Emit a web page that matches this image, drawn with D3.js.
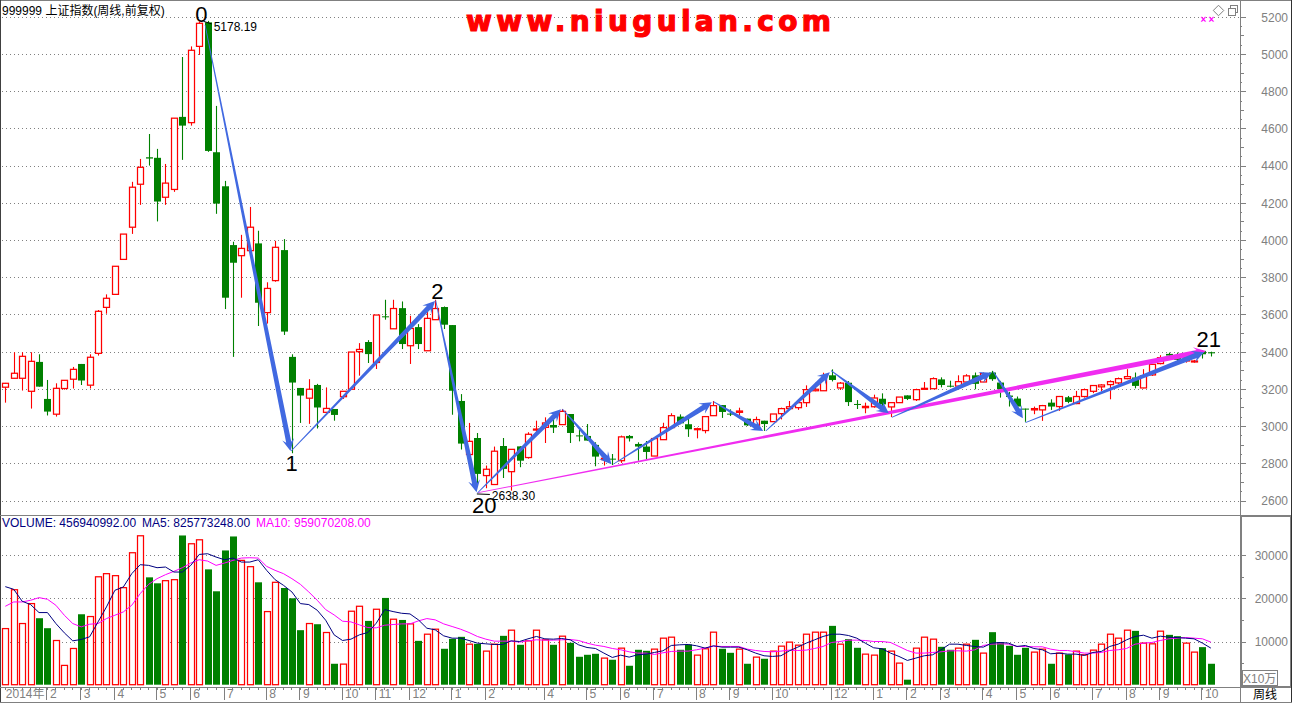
<!DOCTYPE html>
<html><head><meta charset="utf-8">
<style>
html,body{margin:0;padding:0;background:#fff;overflow:hidden}
text{font-family:"Liberation Sans","Noto Sans CJK SC",sans-serif}
</style>
<script src="https://cdn.jsdelivr.net/npm/d3@7/dist/d3.min.js"></script>
</head><body><div id="chart"></div>
<script>
const opens=[3209,3257,3257,3187,3345,3146,3064,3202,3252,3334,3220,3391,3638,3708,3896,4069,4300,4445,4442,4230,4272,4662,4631,5041,5170,4472,4289,3973,3916,3943,3982,3610,3782,3946,3372,3205,3150,3221,
3074,3092,3158,3198,3400,3452,3342,3590,3523,3634,3432,3532,3405,3572,3640,3543,3135,2847,2936,2734,2686,2893,2755,2891,2831,2979,2993,3006,3008,3065,2950,2947,2899,2820,2825,2814,2947,2904,
2890,2839,2927,2992,3051,3010,2981,2976,3056,3113,3067,3074,3040,3001,3029,3024,3067,3094,3099,3126,3190,3190,3273,3205,3233,3119,3099,3104,3147,3103,3126,3165,3142,3199,3201,3251,3217,3215,
3237,3273,3237,3288,3234,3164,3148,3094,3087,3087,3126,3105,3155,3121,3159,3187,3211,3223,3232,3255,3261,3205,3275,3336,3388,3377,3350,3345,3404,3397];
const closes=[3230,3284,3375,3348,3212,3078,3203,3246,3305,3245,3370,3617,3687,3859,4032,4284,4391,4438,4207,4306,4655,4615,5020,5165,4479,4196,3690,3878,3955,4069,3663,3740,3961,3508,3234,3164,3198,3100,
3095,3060,3187,3398,3412,3387,3597,3587,3632,3441,3525,3441,3579,3632,3545,3190,2906,2918,2743,2768,2865,2770,2875,2814,2956,2984,3017,2992,3079,2963,2945,2922,2836,2827,2822,2942,2934,2890,
2861,2933,2992,3056,3015,2983,2986,3051,3110,3076,3063,3081,3004,3035,3011,3065,3094,3104,3126,3196,3198,3251,3248,3231,3129,3115,3106,3151,3117,3126,3156,3146,3196,3203,3255,3221,3214,3239,
3270,3227,3282,3252,3198,3157,3105,3089,3094,3110,3105,3159,3130,3159,3196,3218,3221,3239,3255,3266,3216,3270,3332,3368,3379,3356,3368,3350,3386,3391];
const highs=[3232,3397,3397,3397,3386,3248,3230,3246,3318,3334,3386,3624,3708,3859,4032,4313,4436,4570,4490,4409,4655,4984,5041,5174,5178,4721,4318,3991,4028,4178,4050,3773,3996,4005,3386,3205,3252,3227,
3208,3092,3187,3398,3446,3462,3597,3679,3679,3670,3593,3548,3616,3679,3643,3543,3172,3017,2963,2788,2890,2936,2875,2891,2967,3029,3047,3042,3092,3065,2981,3011,2913,2832,2850,2949,2952,2913,
2920,2933,3018,3069,3063,3045,2992,3051,3135,3113,3090,3099,3040,3051,3029,3065,3099,3135,3144,3219,3233,3287,3305,3237,3242,3140,3126,3169,3176,3126,3156,3165,3201,3237,3262,3262,3244,3273,
3279,3288,3288,3297,3243,3184,3159,3094,3105,3114,3144,3162,3162,3189,3202,3221,3225,3246,3261,3306,3288,3306,3332,3381,3395,3395,3377,3356,3409,3400];
const lows=[3126,3257,3191,3094,3212,3057,3051,3196,3202,3221,3202,3379,3604,3708,3896,4033,4189,4400,4100,4189,4259,4431,4615,4995,4474,4141,3629,3372,3690,3943,3538,3551,3776,3490,2854,3017,3012,2987,
3074,3029,3146,3194,3271,3339,3307,3572,3523,3414,3334,3414,3405,3572,3522,3061,2874,2847,2689,2666,2686,2721,2653,2779,2825,2967,2909,2963,3008,2909,2918,2922,2784,2788,2791,2802,2917,2814,
2822,2839,2927,2992,3010,2942,2934,2961,3056,3044,3054,3058,3001,2992,2974,3024,3036,3090,3087,3103,3187,3190,3240,3194,3108,3092,3069,3099,3099,3049,3126,3140,3135,3199,3201,3208,3208,3210,
3237,3198,3237,3243,3153,3105,3091,3023,3064,3028,3087,3082,3123,3118,3153,3177,3187,3144,3225,3252,3203,3203,3270,3332,3359,3350,3341,3341,3363,3374];
const volumes=[13000,22000,14170,18790,15400,13090,10240,4470,8390,16320,15790,25000,25720,25260,22480,30570,34500,24870,23490,24100,24330,34570,32650,33570,26720,21640,31100,34340,28800,27340,23720,16940,23720,22400,20020,12630,14170,14010,12090,
4850,4770,17020,18170,14780,17480,20100,15170,15000,14090,10160,11700,12860,8320,10630,11090,9390,9470,7780,9390,11320,12630,9240,10160,12630,10400,9240,11240,9700,6470,6930,7160,6160,5780,8470,4390,8090,7850,8240,
10780,11010,8090,9320,6850,8320,12170,8320,7390,8240,4850,6390,6010,7780,8930,9860,9160,11700,12170,12170,13630,9390,10550,8550,7080,6850,8470,7780,5000,1160,8470,11010,10550,8780,8090,8470,9390,10400,7320,12170,
9860,9010,6930,8550,7550,8240,4850,7320,7010,7780,6930,8010,9390,11700,10780,12630,12470,9630,9470,12400,11550,11240,9630,7550,8700,4850];
const ma5=[22715,22100,19330,18560,16710,16710,14170,12010,10160,10470,11090,14550,18020,21870,22640,25720,27800,27640,27100,27260,26100,26100,27640,30180,30340,29570,28950,29340,28410,28410,28950,26490,24330,23020,21480,18790,18560,17250,14940,
11550,10240,10550,11550,12090,14250,17400,16940,16550,16400,15020,13090,12700,11320,10780,10780,10240,9630,9470,9320,9320,10160,10010,10630,11170,10630,10550,10700,10400,9240,8620,8390,7320,6310,6850,6390,6930,7080,7470,
7850,9090,9240,9320,9010,8470,9010,8700,8700,8700,8090,7320,6700,6550,6700,7850,8700,9630,10400,11170,11700,11700,11400,10780,9630,8550,8320,7320,6550,5620,6160,6700,6930,8090,9390,9390,9090,8860,8700,
9630,9780,9630,8860,9090,8390,8090,7160,7320,7080,7080,6780,7470,7700,8860,9390,10400,11170,11470,10780,11240,11010,10930,10780,10630,9630,8470];
const ma10=[18170,19170,19170,19560,20170,19790,18400,16090,14170,13400,14010,14170,15320,16090,16860,18400,21100,23250,24560,25490,26260,27100,28180,28950,28640,27640,28180,28800,29340,29410,29340,27410,26490,25720,24560,23250,21480,19560,17400,
16170,14710,14550,13860,13240,13170,13780,13940,14090,14090,14780,15320,15020,14090,13480,12860,12090,11170,10550,10090,10090,10090,9860,10160,10400,10320,10320,10400,10470,10240,9630,9160,8860,8390,8090,7620,7320,7320,7010,
7390,7700,7780,7780,8090,8470,8930,8860,8860,8860,8240,7930,7700,7620,7780,8010,7930,8010,8390,8860,9780,10010,10320,10320,10240,10010,10010,9780,8860,7930,7320,7320,7470,7620,7850,7850,7780,8090,9090,
9390,9470,9390,8860,8860,8780,8780,8240,7930,7930,7620,7320,7320,7470,7930,8090,8390,9390,9630,9780,10240,10630,10780,10930,10780,10630,9860];
const priceTicks=[5200,5000,4800,4600,4400,4200,4000,3800,3600,3400,3200,3000,2800,2600];
const priceMidTicks=[5100,4900,4700,4500,4300,4100,3900,3700,3500,3300,3100,2900,2700];
const priceMinorTicks=[5150,5050,4950,4850,4750,4650,4550,4450,4350,4250,4150,4050,3950,3850,3750,3650,3550,3450,3350,3250,3150,3050,2950,2850,2750,2650];
const volumeTicks=[10000,20000,30000];
const volumeMidTicks=[5000,15000,25000];
const monthWeeks=[0,5,9,13,18,22,26,31,35,40,44,48,53,57,64,69,73,77,82,86,91,98,103,107,111,116,120,124,129,133,137,142];
const monthLabels=["2014年","2","3","4","5","6","7","8","9","10","11","12","1","2","4","5","6","7","8","9","10","12","1","2","3","4","5","6","7","8","9","10"];
const blueArrows=[[23.7,5156,33.83,2866],[33.9,2866,50.97,3672],[51.05,3676,55.9,2644],[56,2640,65.9,3090],[66.07,3092,71.9,2795],[72.1,2795,83.8,3128],[84,3131,89.9,2974],[90.2,2974,97.8,3289],[97.95,3298,104.8,3069],[105.15,3047,117,3287],[117.2,3292,120.7,3042],[121,3018,142.2,3397]];
const magentaArrows=[[56.1,2642,142.4,3404]];
const waveLabels=[["0",23.25,5174],["1",33.97,2759],["2",51.24,3683],["20",56.8,2531],["21",142.75,3423]];
const extremes=[["5178.19",24,5178],["2638.30",57,2638]];
const titleText="999999 上证指数(周线,前复权)";
const watermark="www.niugulan.com";
const volumeReadout=["VOLUME: 456940992.00","MA5: 825773248.00","MA10: 959070208.00"];

const W=1292,H=703,GRAY="#808080",RED="#ff0000",GREEN="#008000",NAVY="#000080",MAG="#ff00ff",BLUE="#4169e1",PINK="#f02cf0";
const svg=d3.select("#chart").append("svg").attr("width",W).attr("height",H).style("display","block");
const x=d3.scaleLinear().domain([0,143]).range([5.3,1210.9]);
const y=d3.scaleLinear().domain([5000,2800]).range([54,463.3]);
const v=d3.scaleLinear().domain([0,30000]).range([684.7,555.2]);
const TXT=12;

function ln(x1,y1,x2,y2,c,w){svg.append("line").attr("x1",x1).attr("y1",y1).attr("x2",x2).attr("y2",y2).attr("stroke",c).attr("stroke-width",w).attr("shape-rendering","crispEdges");}

// grid
const grid=svg.append("g");
const gridLine=(vals,sc)=>grid.append("g").selectAll("line").data(vals).join("line")
  .attr("x1",2).attr("x2",1240).attr("y1",d=>Math.round(sc(d))+.5).attr("y2",d=>Math.round(sc(d))+.5)
  .attr("stroke",GRAY).attr("stroke-dasharray","1 3");
gridLine(priceTicks,y);gridLine(volumeTicks,v);

// candles
const data=opens.map((o,i)=>({i,o,c:closes[i],h:highs[i],l:lows[i],vol:volumes[i],up:closes[i]>=o}));
const cg=svg.append("g");
cg.selectAll(".w").data(data).join("line").attr("class","w")
  .attr("x1",d=>Math.round(x(d.i))+.5).attr("x2",d=>Math.round(x(d.i))+.5).attr("y1",d=>y(d.h)).attr("y2",d=>y(d.l))
  .attr("stroke",d=>d.up?RED:GREEN).attr("stroke-width",1.1);
cg.selectAll(".b").data(data).join("rect").attr("class","b")
  .attr("x",d=>Math.round(x(d.i))+.5-(d.up?3:3.5)).attr("width",d=>d.up?6:7)
  .attr("y",d=>y(Math.max(d.o,d.c))).attr("height",d=>Math.max(1,Math.abs(y(d.o)-y(d.c))))
  .attr("fill",d=>d.up?"#fff":GREEN).attr("stroke",d=>d.up?RED:"none").attr("stroke-width",1.25);

// volume
const vg=svg.append("g");
vg.selectAll("rect").data(data).join("rect")
  .attr("x",d=>Math.round(x(d.i))+.5-(d.up?3:3.5)).attr("width",d=>d.up?6:7)
  .attr("y",d=>v(d.vol)).attr("height",d=>v(0)-v(d.vol))
  .attr("fill",d=>d.up?"#fff":GREEN).attr("stroke",d=>d.up?RED:"none").attr("stroke-width",1.25);
const maLine=d3.line().x((d,i)=>x(i)).y(d=>v(d));
svg.append("path").attr("d",maLine(ma10)).attr("fill","none").attr("stroke",MAG).attr("stroke-width",1);
svg.append("path").attr("d",maLine(ma5)).attr("fill","none").attr("stroke",NAVY).attr("stroke-width",1);

// arrows
function arrowPath(a){
  const x0=x(a[0]),y0=y(a[1]),x1=x(a[2]),y1=y(a[3]);
  const L=Math.hypot(x1-x0,y1-y0),ux=(x1-x0)/L,uy=(y1-y0)/L,nx=-uy,ny=ux;
  const hl=12,hw=6,bw=2.6,s=.4,bx=x1-ux*hl*.75,by=y1-uy*hl*.75,hx=x1-ux*hl,hy=y1-uy*hl;
  const pts=[[x0+nx*s,y0+ny*s],[bx+nx*bw,by+ny*bw],[hx+nx*hw,hy+ny*hw],[x1,y1],[hx-nx*hw,hy-ny*hw],[bx-nx*bw,by-ny*bw],[x0-nx*s,y0-ny*s]];
  return d3.line()(pts)+"Z";
}
svg.append("g").selectAll("path").data(magentaArrows).join("path").attr("d",arrowPath).attr("fill",PINK);
svg.append("g").selectAll("path").data(blueArrows).join("path").attr("d",arrowPath).attr("fill",BLUE);

// wave labels
svg.append("g").selectAll("text").data(waveLabels).join("text")
  .attr("x",d=>x(d[1])).attr("y",d=>y(d[2])).attr("text-anchor","middle")
  .attr("font-size",22).attr("fill","#000").text(d=>d[0]);
const ex=svg.append("g");
ex.selectAll("text").data(extremes).join("text")
  .attr("x",d=>x(d[1])+6).attr("y",d=>y(d[2])+(d[2]>4000?10.5:6.5))
  .attr("font-size",TXT).attr("fill","#000").text(d=>d[0]);
ex.selectAll("line").data(extremes).join("line")
  .attr("x1",d=>x(d[1])-(d[2]>4000?4:9)).attr("x2",d=>x(d[1])+4)
  .attr("y1",d=>y(d[2])+.5).attr("y2",d=>y(d[2])+(d[2]>4000?3:1))
  .attr("stroke","#000").attr("stroke-width",1);

// frame lines
ln(0,.5,W,.5,GRAY,1);
ln(.5,0,.5,H,"#404040",1);
ln(0,515.5,1240,515.5,GRAY,1.5);
ln(0,687.5,W,687.5,GRAY,1.5);
ln(1240.5,0,1240.5,H,GRAY,1.5);
ln(1291.5,0,1291.5,H,"#303030",1);
ln(0,702.5,W,702.5,GRAY,1);
svg.append("rect").attr("x",1241).attr("y",516).attr("width",49.5).attr("height",171)
  .attr("fill","none").attr("stroke",GRAY).attr("stroke-width",1.6).attr("shape-rendering","crispEdges");

// price axis
function styleAxis(g){g.select(".domain").remove();g.selectAll("line").attr("stroke",GRAY).attr("shape-rendering","crispEdges");g.selectAll("text").attr("fill",GRAY).attr("font-size",TXT);}
svg.append("g").attr("transform","translate(1241,0)")
  .call(d3.axisRight(y).tickValues(priceTicks).tickSize(5).tickFormat(d3.format("d")))
  .call(styleAxis).selectAll("text").attr("text-anchor","end").attr("x",47).attr("dy",".36em");
svg.append("g").attr("transform","translate(1241,0)").call(d3.axisRight(y).tickValues(priceMidTicks).tickSize(3).tickFormat("")).call(styleAxis);
svg.append("g").attr("transform","translate(1241,0)").call(d3.axisRight(y).tickValues(priceMinorTicks).tickSize(1).tickFormat("")).call(styleAxis);

// volume axis
svg.append("g").attr("transform","translate(1241,0)")
  .call(d3.axisRight(v).tickValues(volumeTicks).tickSize(5).tickFormat(d3.format("d")))
  .call(styleAxis).selectAll("text").attr("text-anchor","end").attr("x",47).attr("dy",".36em");
svg.append("g").attr("transform","translate(1241,0)").call(d3.axisRight(v).tickValues(volumeMidTicks).tickSize(3).tickFormat("")).call(styleAxis);

// X10万
svg.append("rect").attr("x",1242).attr("y",670.5).attr("width",35).attr("height",15).attr("fill","#fff").attr("stroke",GRAY).attr("shape-rendering","crispEdges");
svg.append("text").attr("x",1243).attr("y",682.5).attr("font-size",TXT).attr("fill",GRAY).text("X10万");
svg.append("text").attr("x",1265).attr("y",699).attr("text-anchor","middle").attr("font-size",TXT).attr("fill","#000").text("周线");

// time axis
const timeAxis=d3.axisBottom(x).tickValues(monthWeeks).tickSize(13).tickFormat((d,i)=>monthLabels[i]);
svg.append("g").attr("transform","translate(-1,687)").call(timeAxis).call(g=>{
  g.select(".domain").remove();
  g.selectAll("line").attr("stroke",GRAY).attr("shape-rendering","crispEdges");
  g.selectAll("text").attr("fill",GRAY).attr("font-size",TXT).attr("text-anchor","start").attr("x",d=>d===0?1:3).attr("y",2).attr("dy",".71em");
  g.selectAll(".tick").filter(d=>d===0).select("line").remove();
});
svg.append("g").attr("transform","translate(0,687)").attr("shape-rendering","crispEdges").selectAll("line").data(data).join("line")
  .attr("x1",d=>x(d.i)).attr("x2",d=>x(d.i)).attr("y1",1).attr("y2",3).attr("stroke",GRAY);

// header text
svg.append("text").attr("x",2).attr("y",14.5).attr("font-size",TXT).attr("fill","#000").text(titleText);
const readX=[2,142,256],readC=[NAVY,NAVY,MAG];
svg.append("g").selectAll("text").data(volumeReadout).join("text")
  .attr("x",(d,i)=>readX[i]).attr("y",527).attr("font-size",TXT).attr("fill",(d,i)=>readC[i]).text(d=>d);

// watermark
svg.append("text").attr("x",466).attr("y",31).attr("font-size",28).attr("font-weight",700)
  .style("font-family","'DejaVu Sans',sans-serif").attr("fill",RED).attr("stroke",RED).attr("stroke-width",1.2)
  .attr("textLength",365).attr("lengthAdjust","spacing").text(watermark);

// top-right icons
svg.append("path").attr("d",d3.symbol(d3.symbolDiamond2||d3.symbolSquare,70)()).attr("transform","translate(1218.5,10.5)").attr("fill","none").attr("stroke",GRAY);
svg.append("rect").attr("x",1228).attr("y",8).attr("width",7.5).attr("height",7.5).attr("fill","#fff").attr("stroke",GRAY).attr("shape-rendering","crispEdges");
svg.append("path").attr("d","M1230.5 8V5.5H1237.5V12.5H1235.5").attr("fill","none").attr("stroke",GRAY).attr("shape-rendering","crispEdges");
svg.append("g").selectAll("text").data([1203.3,1211.3]).join("text").attr("x",d=>d).attr("y",22.5)
  .attr("text-anchor","middle").attr("font-size",10).attr("font-weight",700).attr("fill",MAG).text("×");
</script></body></html>
